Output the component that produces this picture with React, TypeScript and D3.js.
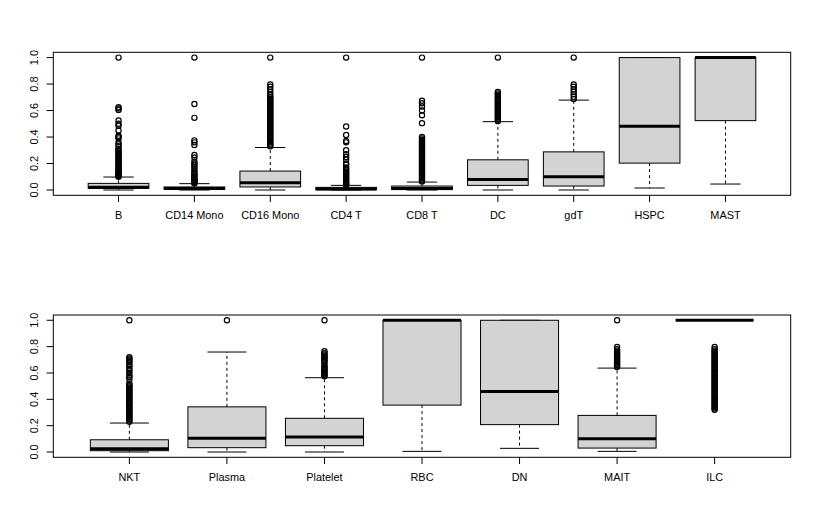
import React from "react";
import * as d3 from "d3";

// ---------- data: top panel ----------
const topCategories = ["B", "CD14 Mono", "CD16 Mono", "CD4 T", "CD8 T", "DC", "gdT", "HSPC", "MAST"];
const topLow = [0.0, 0.0, 0.0, 0.0, 0.0, 0.0, 0.0, 0.015, 0.045];
const topQ1 = [0.012, 0.005, 0.023, 0.002, 0.003, 0.035, 0.03, 0.203, 0.524];
const topMedian = [0.02, 0.012, 0.055, 0.007, 0.012, 0.08, 0.1, 0.481, 1.0];
const topQ3 = [0.05, 0.023, 0.143, 0.02, 0.03, 0.228, 0.288, 1.0, 1.0];
const topHigh = [0.098, 0.048, 0.321, 0.035, 0.06, 0.516, 0.679, 1.0, 1.0];
const topOutliers: number[][] = [
  [1.0, 0.625, 0.615, 0.605, 0.525, 0.5, 0.485, 0.45, 0.41, 0.4, 0.39, 0.36, 0.345, 0.33, 0.31, 0.3, 0.29, 0.28, 0.27, 0.26, 0.25, 0.24, 0.23, 0.22, 0.21, 0.2, 0.19, 0.18, 0.17, 0.16, 0.15, 0.14, 0.13, 0.125, 0.12, 0.115, 0.11, 0.105, 0.1],
  [1.0, 0.65, 0.545, 0.375, 0.36, 0.34, 0.265, 0.245, 0.215, 0.2, 0.19, 0.175, 0.16, 0.145, 0.13, 0.12, 0.11, 0.1, 0.09, 0.08, 0.075, 0.07, 0.065, 0.06, 0.055, 0.05],
  [1.0, 0.797, 0.78, 0.76, 0.74, 0.72, 0.705, 0.7, 0.69, 0.68, 0.67, 0.66, 0.65, 0.64, 0.63, 0.62, 0.61, 0.6, 0.59, 0.58, 0.57, 0.56, 0.55, 0.54, 0.53, 0.52, 0.51, 0.5, 0.49, 0.48, 0.47, 0.46, 0.45, 0.44, 0.43, 0.42, 0.41, 0.4, 0.39, 0.38, 0.37, 0.36, 0.35, 0.34, 0.33],
  [1.0, 0.48, 0.415, 0.37, 0.36, 0.3, 0.27, 0.25, 0.23, 0.2, 0.19, 0.17, 0.16, 0.15, 0.14, 0.13, 0.12, 0.11, 0.1, 0.09, 0.08, 0.07, 0.06, 0.05, 0.045, 0.04],
  [1.0, 0.675, 0.655, 0.63, 0.6, 0.565, 0.505, 0.4, 0.39, 0.38, 0.37, 0.36, 0.35, 0.34, 0.33, 0.32, 0.31, 0.3, 0.29, 0.28, 0.27, 0.26, 0.25, 0.24, 0.23, 0.22, 0.21, 0.2, 0.19, 0.18, 0.17, 0.16, 0.15, 0.14, 0.13, 0.12, 0.11, 0.1, 0.09, 0.08, 0.07, 0.065],
  [1.0, 0.74, 0.73, 0.72, 0.71, 0.7, 0.69, 0.68, 0.67, 0.66, 0.65, 0.64, 0.63, 0.62, 0.61, 0.6, 0.59, 0.58, 0.57, 0.56, 0.55, 0.54, 0.53, 0.52],
  [1.0, 0.797, 0.78, 0.76, 0.742, 0.724, 0.705, 0.688],
  [],
  [],
];

// ---------- data: bottom panel ----------
const bottomCategories = ["NKT", "Plasma", "Platelet", "RBC", "DN", "MAIT", "ILC"];
const bottomLow = [0.0, 0.0, 0.0, 0.005, 0.028, 0.005, 1.0];
const bottomQ1 = [0.01, 0.033, 0.048, 0.356, 0.208, 0.03, 1.0];
const bottomMedian = [0.025, 0.105, 0.115, 1.0, 0.459, 0.1, 1.0];
const bottomQ3 = [0.093, 0.343, 0.256, 1.0, 1.0, 0.278, 1.0];
const bottomHigh = [0.22, 0.759, 0.564, 1.0, 1.0, 0.637, 1.0];
const bottomOutliers: number[][] = [
  [1.0, 0.72, 0.71, 0.7, 0.69, 0.68, 0.66, 0.65, 0.63, 0.62, 0.6, 0.58, 0.57, 0.55, 0.52, 0.51, 0.5, 0.49, 0.48, 0.47, 0.46, 0.45, 0.44, 0.43, 0.42, 0.41, 0.4, 0.39, 0.38, 0.37, 0.36, 0.35, 0.34, 0.33, 0.32, 0.31, 0.3, 0.29, 0.28, 0.27, 0.26, 0.25, 0.24, 0.23],
  [1.0],
  [1.0, 0.765, 0.75, 0.74, 0.73, 0.72, 0.71, 0.7, 0.69, 0.68, 0.66, 0.65, 0.64, 0.63, 0.62, 0.61, 0.6, 0.59, 0.58, 0.575],
  [],
  [],
  [1.0, 0.797, 0.78, 0.77, 0.76, 0.75, 0.74, 0.73, 0.72, 0.71, 0.7, 0.69, 0.68, 0.67, 0.66, 0.65, 0.645],
  [0.797, 0.78, 0.77, 0.76, 0.75, 0.74, 0.73, 0.72, 0.71, 0.7, 0.69, 0.68, 0.67, 0.66, 0.65, 0.64, 0.63, 0.62, 0.61, 0.6, 0.59, 0.58, 0.57, 0.56, 0.55, 0.54, 0.53, 0.52, 0.51, 0.5, 0.49, 0.48, 0.47, 0.46, 0.45, 0.44, 0.43, 0.42, 0.41, 0.4, 0.39, 0.38, 0.37, 0.36, 0.35, 0.34, 0.33, 0.32],
];

const yTicks = [0, 0.2, 0.4, 0.6, 0.8, 1.0];
const yTickLabels = ["0.0", "0.2", "0.4", "0.6", "0.8", "1.0"];

const FONT = "'Liberation Sans', Arial, Helvetica, sans-serif";
const FS = 10.9;

type PanelProps = {
  cats: string[];
  low: number[];
  q1: number[];
  med: number[];
  q3: number[];
  high: number[];
  outs: number[][];
  left: number;
  right: number;
  top: number;
  bottom: number;
};

function Panel({ cats, low, q1, med, q3, high, outs, left, right, top, bottom }: PanelProps) {
  const n = cats.length;
  const ext = n * 0.04;
  const x = d3.scaleLinear().domain([0.5 - ext, n + 0.5 + ext]).range([left, right]);
  const y = d3.scaleLinear().domain([-0.04, 1.04]).range([bottom, top]);
  const unit = x(2) - x(1);
  const bw = unit * 0.8;
  const sw = bw * 0.5;
  return (
    <g>
      {cats.map((c, i) => {
        const cx = x(i + 1);
        return (
          <g key={c}>
            <line x1={cx} x2={cx} y1={y(q3[i])} y2={y(high[i])} stroke="#000" strokeDasharray="3,3" />
            <line x1={cx} x2={cx} y1={y(q1[i])} y2={y(low[i])} stroke="#000" strokeDasharray="3,3" />
            <line x1={cx - sw / 2} x2={cx + sw / 2} y1={y(high[i])} y2={y(high[i])} stroke="#000" />
            <line x1={cx - sw / 2} x2={cx + sw / 2} y1={y(low[i])} y2={y(low[i])} stroke="#000" />
            <rect
              x={cx - bw / 2}
              y={y(q3[i])}
              width={bw}
              height={Math.max(0, y(q1[i]) - y(q3[i]))}
              fill="#D3D3D3"
              stroke="#000"
              strokeWidth={1}
            />
            <line x1={cx - bw / 2} x2={cx + bw / 2} y1={y(med[i])} y2={y(med[i])} stroke="#000" strokeWidth={3} />
            {outs[i].map((v, j) => (
              <circle key={j} cx={cx} cy={y(v)} r={2.6} fill="none" stroke="#000" strokeWidth={1.2} />
            ))}
          </g>
        );
      })}
      <rect x={left} y={top} width={right - left} height={bottom - top} fill="none" stroke="#000" strokeWidth={1} />
      {yTicks.map((t, i) => (
        <g key={t}>
          <line x1={left - 6.7} x2={left} y1={y(t)} y2={y(t)} stroke="#000" />
          <text
            transform={`translate(${left - 15.5},${y(t)}) rotate(-90)`}
            textAnchor="middle"
            fontFamily={FONT}
            fontSize={FS}
            fill="#000"
          >
            {yTickLabels[i]}
          </text>
        </g>
      ))}
      {cats.map((c, i) => (
        <g key={"x" + c}>
          <line x1={x(i + 1)} x2={x(i + 1)} y1={bottom} y2={bottom + 6.7} stroke="#000" />
          <text x={x(i + 1)} y={bottom + 23.5} textAnchor="middle" fontFamily={FONT} fontSize={FS} fill="#000">
            {c}
          </text>
        </g>
      ))}
    </g>
  );
}

export default function App() {
  return (
    <svg width={817} height={525} style={{ position: "absolute", left: 0, top: 0, background: "#fff" }}>
      <rect x={0} y={0} width={817} height={525} fill="#fff" />
      <Panel
        cats={topCategories}
        low={topLow}
        q1={topQ1}
        med={topMedian}
        q3={topQ3}
        high={topHigh}
        outs={topOutliers}
        left={53.3}
        right={790.7}
        top={52.3}
        bottom={195.3}
      />
      <Panel
        cats={bottomCategories}
        low={bottomLow}
        q1={bottomQ1}
        med={bottomMedian}
        q3={bottomQ3}
        high={bottomHigh}
        outs={bottomOutliers}
        left={53.3}
        right={790.7}
        top={315}
        bottom={457.3}
      />
    </svg>
  );
}
